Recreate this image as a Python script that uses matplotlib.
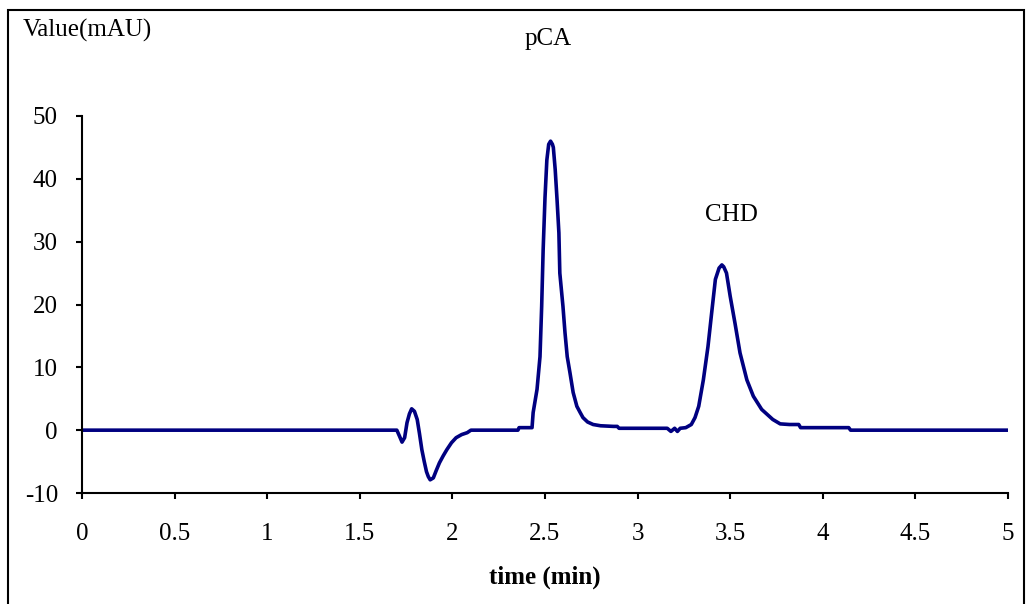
import numpy as np
import matplotlib
matplotlib.use("Agg")
import matplotlib.pyplot as plt
from matplotlib.patches import Rectangle

# chromatogram points (time in min, signal in mAU)
time_min = [0.0, 1.70, 1.715, 1.728, 1.742, 1.755, 1.768, 1.78, 1.795, 1.81, 1.822,
            1.835, 1.848, 1.86, 1.87, 1.88, 1.897, 1.913, 1.93, 1.95, 1.97, 1.995,
            2.02, 2.05, 2.08, 2.10, 2.354, 2.36, 2.43, 2.436, 2.457, 2.473, 2.482,
            2.49, 2.50, 2.51, 2.52, 2.53, 2.54, 2.545, 2.555, 2.565, 2.575, 2.58,
            2.597, 2.608, 2.62, 2.635, 2.652, 2.672, 2.69, 2.705, 2.73, 2.76, 2.80,
            2.87, 2.89, 2.90, 3.16, 3.18, 3.20, 3.215, 3.23, 3.26, 3.29, 3.31, 3.33,
            3.355, 3.38, 3.40, 3.42, 3.44, 3.455, 3.465, 3.48, 3.50, 3.526, 3.553,
            3.59, 3.625, 3.67, 3.73, 3.77, 3.82, 3.87, 3.88, 4.14, 4.15, 5.0]
signal_mau = [0.0, 0.0, -1.0, -1.9, -1.2, 1.2, 2.6, 3.4, 3.0, 1.7, -0.5,
              -3.1, -5.0, -6.6, -7.4, -7.9, -7.6, -6.4, -5.2, -4.1, -3.1, -2.0,
              -1.2, -0.7, -0.4, 0.0, 0.0, 0.4, 0.4, 2.8, 6.5, 11.7, 19.7,
              28.7, 37.0, 43.0, 45.5, 46.0, 45.5, 45.0, 41.5, 36.7, 31.4, 25.0,
              19.7, 15.5, 11.7, 9.1, 6.0, 3.8, 2.8, 2.0, 1.3, 0.9, 0.7,
              0.6, 0.6, 0.3, 0.3, -0.2, 0.3, -0.2, 0.3, 0.4, 0.9, 2.0, 3.8,
              8.0, 13.3, 18.7, 24.0, 25.8, 26.3, 26.0, 25.0, 21.3, 17.0, 12.3,
              8.0, 5.4, 3.3, 1.7, 1.0, 0.9, 0.9, 0.4, 0.4, 0.0, 0.0]

x_ticks = [0, 0.5, 1, 1.5, 2, 2.5, 3, 3.5, 4, 4.5, 5]
x_tick_labels = ["0", "0.5", "1", "1.5", "2", "2.5", "3", "3.5", "4", "4.5", "5"]
y_ticks = [-10, 0, 10, 20, 30, 40, 50]

plt.rcParams['font.family'] = ['Liberation Serif', 'DejaVu Serif']
plt.rcParams['axes.unicode_minus'] = False

fig = plt.figure(figsize=(10.26, 6.04), dpi=100)
ax = fig.add_axes([82 / 1026, (604 - 493) / 604, (1008 - 82) / 1026, (493 - 116) / 604])

ax.plot(time_min, signal_mau, color="#000080", linewidth=2.6, solid_joinstyle="round")

ax.set_xlim(0, 5)
ax.set_ylim(-10, 50)
ax.set_xticks(x_ticks)
ax.set_xticklabels(x_tick_labels)
ax.set_yticks(y_ticks)
for s in ["top", "right"]:
    ax.spines[s].set_visible(False)
for s in ["left", "bottom"]:
    ax.spines[s].set_linewidth(1.5)
ax.tick_params(axis="both", direction="out", length=4.3, width=1.5, labelsize=18)
ax.tick_params(axis="y", pad=13)
ax.tick_params(axis="x", pad=17)

ax.set_xlabel("time (min)", fontsize=18, fontweight="bold", labelpad=15)

fig.text(23 / 1026, 1 - 30 / 604, "Value(mAU)", fontsize=18, va="center", ha="left")
ax.text(2.516, 62.2, "pCA", fontsize=18, ha="center", va="center", clip_on=False)
ax.text(3.505, 34.3, "CHD", fontsize=18, ha="center", va="center", clip_on=False)

# outer chart border
fig.patches.append(Rectangle((8 / 1026, -0.01), (1024 - 8) / 1026, 1.01 - 10 / 604,
                             transform=fig.transFigure, fill=False,
                             edgecolor="black", linewidth=1.5))

fig.savefig("out.png", dpi=100)
